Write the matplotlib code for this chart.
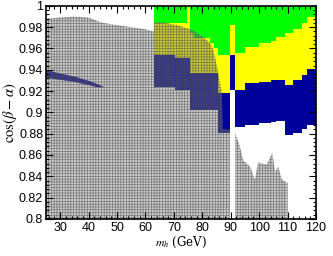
import matplotlib
matplotlib.use("Agg")
from matplotlib import pyplot as plt
from matplotlib.ticker import MultipleLocator
import numpy as np

plt.rcParams['font.family'] = ['Liberation Sans', 'DejaVu Sans']
plt.rcParams['mathtext.fontset'] = 'stix'
plt.rcParams['hatch.linewidth'] = 0.5

# column edges (GeV) of the coloured region
col_x = [63, 70.4, 74.6, 75.6, 77, 82.7, 84, 85.5, 87, 89.7, 91.5, 95, 100,
         104, 106, 109, 112, 115, 117, 120]
# green / yellow boundary
y_gy = [0.984, 0.984, 1.0, 0.975, 0.970, 0.965, 0.960, 0.954, 0.954, 0.982,
        0.956, 0.961, 0.965, 0.967, 0.971, 0.975, 0.978, 0.984, 0.990, 0.990]
# yellow / blue boundary
y_yb = [0.954, 0.951, 0.951, 0.937, 0.937, 0.937, 0.937, 0.918, 0.918, 0.954,
        0.921, 0.928, 0.929, 0.930, 0.930, 0.926, 0.930, 0.935, 0.941, 0.941]
# lower edge of blue
y_bl = [0.924, 0.921, 0.921, 0.902, 0.902, 0.902, 0.902, 0.881, 0.881, 0.921,
        0.886, 0.888, 0.890, 0.891, 0.892, 0.879, 0.881, 0.884, 0.888, 0.888]

# blue strip at low mass
strip_x = [25, 30, 35, 40, 43, 45.5]
strip_top = [0.940, 0.937, 0.934, 0.930, 0.927, 0.924]
strip_bot = [0.933, 0.931, 0.929, 0.926, 0.924, 0.924]

# grey (hatched) region, split by the gap near 90 GeV
grey1_x = [25, 30, 35, 40, 45, 50, 55, 60, 62.9, 63, 65, 71, 74.6, 76.7, 80.2,
           82.7, 83.8, 85.2, 86.2, 86.9, 87.2, 89.7]
grey1_y = [0.988, 0.989, 0.990, 0.989, 0.984, 0.982, 0.980, 0.978, 0.976, 0.984,
           0.985, 0.982, 0.979, 0.977, 0.971, 0.965, 0.959, 0.943, 0.928, 0.918,
           0.884, 0.884]
grey2_x = [91.5, 93, 94.4, 96.8, 98.5, 99.6, 102.7, 104.6, 105.6, 106.7, 108,
           109.7, 110]
grey2_y = [0.881, 0.870, 0.855, 0.849, 0.837, 0.853, 0.851, 0.862, 0.844, 0.849,
           0.837, 0.834, 0.834]

green = '#00ff00'
yellow = '#ffff00'
blue = '#00009a'

fig = plt.figure(figsize=(3.33, 2.56), dpi=100)
ax = fig.add_axes([0.138, 0.145, 0.811, 0.832])

ax.fill_between(col_x, y_gy, 1.0, step='post', color=green, lw=0)
ax.fill_between(col_x, y_yb, y_gy, step='post', color=yellow, lw=0)
ax.fill_between(col_x, y_bl, y_yb, step='post', color=blue, lw=0)
ax.fill_between(strip_x, strip_bot, strip_top, color=blue, lw=0)

for gx, gy in [(grey1_x, grey1_y), (grey2_x, grey2_y)]:
    ax.fill_between(gx, 0.8, gy, facecolor=(0.5, 0.5, 0.5, 0.4),
                    edgecolor=(0.3, 0.3, 0.3, 0.65), hatch='++++++', lw=0)

ax.set_xlim(25, 120)
ax.set_ylim(0.8, 1.0)
ax.xaxis.set_major_locator(MultipleLocator(10))
ax.xaxis.set_minor_locator(MultipleLocator(2))
ax.yaxis.set_major_locator(MultipleLocator(0.02))
ax.yaxis.set_minor_locator(MultipleLocator(0.004))
ax.set_yticks([0.8, 0.82, 0.84, 0.86, 0.88, 0.9, 0.92, 0.94, 0.96, 0.98, 1.0])
ax.set_yticklabels(['0.8', '0.82', '0.84', '0.86', '0.88', '0.9', '0.92',
                    '0.94', '0.96', '0.98', '1'])
ax.tick_params(which='both', direction='in', top=True, right=True,
               labelsize=9, width=0.8, pad=2)
ax.tick_params(which='major', length=5)
ax.tick_params(which='minor', length=2.5)
for s in ax.spines.values():
    s.set_linewidth(1.2)

ax.set_xlabel(r'$m_h$ (GeV)', family='serif', fontsize=8.5, labelpad=1)
ax.set_ylabel(r'$\cos(\beta-\alpha)$', fontsize=10.5, labelpad=0)

fig.savefig('out.png', dpi=100)
